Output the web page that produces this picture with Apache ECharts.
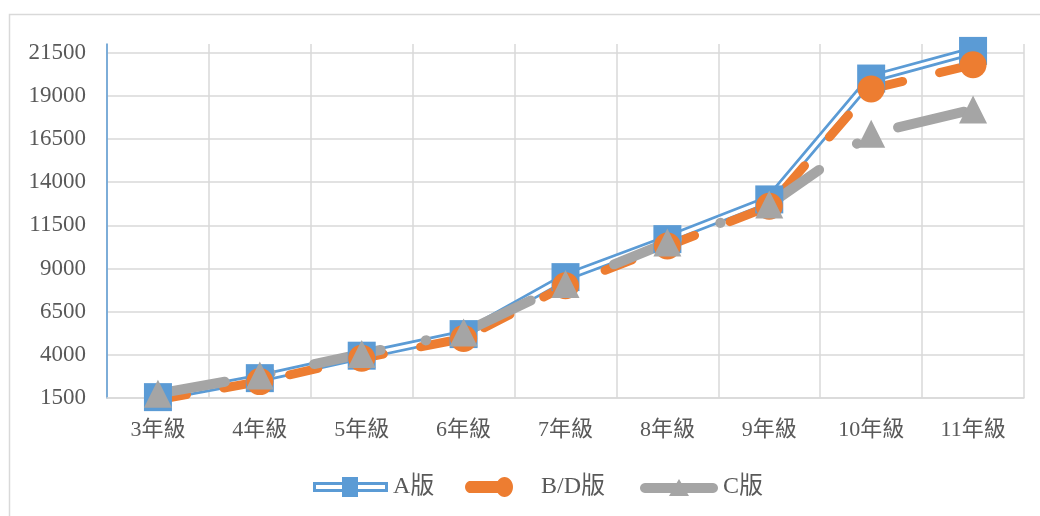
<!DOCTYPE html>
<html>
<head>
<meta charset="utf-8">
<script src="https://cdn.jsdelivr.net/npm/echarts@6/dist/echarts.min.js"></script>
<style>
html,body{margin:0;padding:0;background:#fff;}
#c{width:1040px;height:516px;}
</style>
</head>
<body>
<div id="c"></div>
<script>
var categories = ['3年級','4年級','5年級','6年級','7年級','8年級','9年級','10年級','11年級'];
var seriesNames = ['A版','B/D版','C版'];
var valuesA = [1550, 2650, 3950, 5200, 8500, 10700, 13000, 20000, 21600];
var valuesB = [1400, 2450, 3800, 4950, 8000, 10300, 12600, 19400, 20800];
var valuesC = [1750, 2800, 4050, 5300, 8100, 10500, 12700, 16800, 18200];
var yMin = 1500, yMax = 22000, yStep = 2500;

var BLUE = '#5b9bd5', ORANGE = '#ed7d31', GRAY = '#a5a5a5';
var FONT = '"Liberation Serif", "Times New Roman", "Noto Sans CJK TC", serif';
var TEXT = '#595959';

function ellipsePath(cx, cy, rx, ry, n) {
  var s = '';
  for (var i = 0; i < n; i++) {
    var a = i / n * Math.PI * 2;
    s += (i === 0 ? 'M' : 'L') + (cx + rx * Math.cos(a)).toFixed(2) + ',' + (cy + ry * Math.sin(a)).toFixed(2) + ' ';
  }
  return s + 'Z ';
}
var iconA = 'path://M0,5 L75,5 L75,8 L0,8 Z M0,12 L75,12 L75,15 L0,15 Z M0,5 L3,5 L3,15 L0,15 Z M72,5 L75,5 L75,15 L72,15 Z M29,0 L45,0 L45,20 L29,20 Z';
var iconB = 'path://' + ellipsePath(5.5, 10, 5.5, 5.5, 24) + 'M5.5,4.5 L39,4.5 L39,15.5 L5.5,15.5 Z ' + ellipsePath(39.5, 10, 8.5, 9, 32);
var iconC = 'path://' + ellipsePath(5, 11, 5, 5, 24) + ellipsePath(73, 11, 5, 5, 24) + 'M5,6 L73,6 L73,16 L5,16 Z M39,2 L49,19 L29,19 Z M39,0 L39.01,0 L39.01,0.01 Z M39,20 L39.01,20 L39.01,19.99 Z';

var chart = echarts.init(document.getElementById('c'), null, {renderer:'canvas'});
var legendText = {color: TEXT, fontSize: 24, fontFamily: FONT};
chart.setOption({
  animation: false,
  backgroundColor: '#fff',
  graphic: [{
    type: 'rect', silent: true, z: -10,
    shape: {x: 9.5, y: 14.5, width: 1040, height: 510},
    style: {fill: 'none', stroke: '#d9d9d9', lineWidth: 1.5}
  }],
  grid: {left: 107, right: 16, top: 44, bottom: 118, containLabel: false},
  legend: [
    {data: [{name: seriesNames[0], icon: iconA}], left: 308, top: 470, itemWidth: 75, itemHeight: 20, symbolKeepAspect: false, textStyle: legendText, selectedMode: false},
    {data: [{name: seriesNames[1], icon: iconB}], left: 460, top: 470, itemWidth: 48, itemHeight: 20, symbolKeepAspect: false, textStyle: Object.assign({padding: [0,0,0,23]}, legendText), selectedMode: false},
    {data: [{name: seriesNames[2], icon: iconC}], left: 635, top: 470, itemWidth: 78, itemHeight: 20, symbolKeepAspect: false, textStyle: legendText, selectedMode: false}
  ],
  xAxis: {
    type: 'category', data: categories, boundaryGap: true,
    axisLine: {show: true, lineStyle: {color: '#d9d9d9', width: 1.5}},
    axisTick: {show: false},
    axisLabel: {color: TEXT, fontSize: 22, fontFamily: FONT, margin: 21, lineHeight: 22},
    splitLine: {show: true, lineStyle: {color: '#d9d9d9', width: 1.5}}
  },
  yAxis: {
    type: 'value', min: yMin, max: yMax, interval: yStep,
    axisLine: {show: true, lineStyle: {color: BLUE, width: 1.5}},
    axisTick: {show: false},
    axisLabel: {color: TEXT, fontSize: 23, fontFamily: FONT, margin: 21, showMaxLabel: false,
      formatter: function (v) { return String(v); }},
    splitLine: {show: true, showMaxLine: false, lineStyle: {color: '#d9d9d9', width: 1.5}}
  },
  series: [
    {name: 'A_outer', type: 'line', data: valuesA, symbol: 'none', silent: true,
     lineStyle: {color: BLUE, width: 9, join: 'round'}},
    {name: 'A_inner', type: 'line', data: valuesA, symbol: 'none', silent: true,
     lineStyle: {color: '#ffffff', width: 3.5, join: 'round'}},
    {name: seriesNames[0], type: 'line', data: valuesA, symbol: 'rect', symbolSize: 28,
     itemStyle: {color: BLUE}, lineStyle: {color: BLUE, width: 0, opacity: 0}},
    {name: seriesNames[1], type: 'line', data: valuesB, symbol: 'circle', symbolSize: 27,
     itemStyle: {color: ORANGE},
     lineStyle: {color: ORANGE, width: 9, type: [29, 38], cap: 'round', join: 'round'}},
    {name: seriesNames[2], type: 'line', data: valuesC, symbol: 'triangle', symbolSize: 28,
     itemStyle: {color: GRAY},
     lineStyle: {color: GRAY, width: 10, type: [68, 46, 0.5, 44.5], cap: 'round', join: 'round'}}
  ]
});
</script>
</body>
</html>
